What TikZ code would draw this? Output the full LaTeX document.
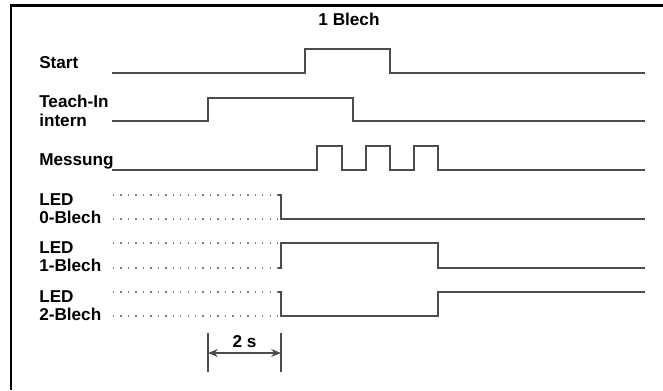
\documentclass[tikz,border=0pt]{standalone}
\usepackage{fontspec}
\setmainfont{Liberation Sans}
\usetikzlibrary{arrows.meta,positioning}
\definecolor{siggray}{HTML}{4C4C4C}
\tikzset{
    signame/.style={
        anchor=north west,
        inner sep=0pt,
        align=left,
        font=\fontsize{12.2}{13.2}\selectfont\bfseries,
    },
    sigline/.style={
        draw=siggray,
        line width=1.3pt,
    },
    idle/.style={
        draw=gray,
        line width=1.1pt,
        dash pattern=on 1pt off 4.3pt,
    },
    dimline/.style={
        draw=siggray,
        line width=0.8pt,
    },
}
\begin{document}
\begin{tikzpicture}[x=0.025cm,y=-0.025cm,>={Stealth[length=7pt,width=5.6pt]}]
	    \useasboundingbox (0,0) rectangle (663,390);
	    \draw[line width=1.8pt] (11,390) -- (11,5.5) -- (663,5.5);
	    % labels
	    \node [signame,anchor=base] (title) at (349,25) {1 Blech};
	    \node [signame] (start) at (39,56) {Start};
	    \node [signame] (teach) at (39,95) {Teach-In\\intern};
	    \node [signame] (mess) at (39,153) {Messung};
	    \node [signame] (led0) at (39,193) {LED\\0-Blech};
	    \node [signame] (led1) at (39,241) {LED\\1-Blech};
	    \node [signame] (led2) at (39,290) {LED\\2-Blech};
	    % signals
	    \draw[sigline] (112,73) -- (305,73) -- (305,49) -- (390,49) -- (390,73) -- (645,73);
	    \draw[sigline] (112,121) -- (208,121) -- (208,98) -- (353,98) -- (353,121) -- (645,121);
	    \draw[sigline] (112,170) -- (317,170) -- (317,146) -- (342,146) -- (342,170)
	    	-- (366,170) -- (366,146) -- (390,146) -- (390,170)
	    	-- (414,170) -- (414,146) -- (438,146) -- (438,170) -- (645,170);
	    % LEDs
	    \foreach \y in {195,219,243,268,292,316}
	    	\draw[idle] (113,\y) -- (278,\y);
	    \draw[sigline] (278,195) -- (281,195) -- (281,219) -- (645,219);
	    \draw[sigline] (278,268) -- (281,268) -- (281,243) -- (438,243) -- (438,268) -- (645,268);
	    \draw[sigline] (278,292) -- (281,292) -- (281,316) -- (438,316) -- (438,292) -- (645,292);
	    % 2 s
	    \coordinate (t0) at (208,353);
	    \coordinate (t2) at (281,353);
	    \draw[dimline] (208,333) -- (208,372);
	    \draw[dimline] (281,333) -- (281,372);
	    \draw[dimline,<->] (t0) -- node [above,font=\fontsize{12.2}{13.2}\selectfont\bfseries] (dur) {2 s} (t2);
	\end{tikzpicture}
\end{document}
